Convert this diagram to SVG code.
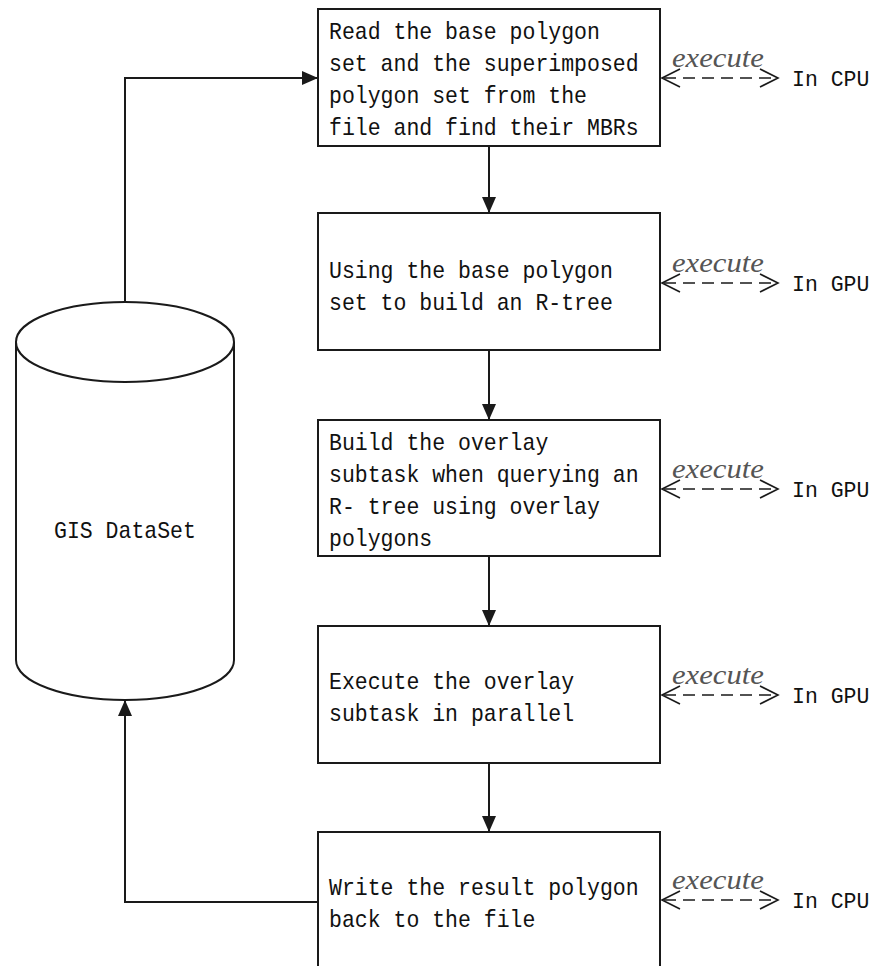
<svg xmlns="http://www.w3.org/2000/svg" width="873" height="966" viewBox="0 0 873 966">
  <style>
    .box { fill: #fff; stroke: #1a1a1a; stroke-width: 2; }
    .cyl { fill: #fff; stroke: #1a1a1a; stroke-width: 2; }
    .edge { fill: none; stroke: #1a1a1a; stroke-width: 2; }
    .exec { fill: none; stroke: #1a1a1a; stroke-width: 1.6; stroke-dasharray: 12 7; }
    .head { fill: none; stroke: #1a1a1a; stroke-width: 1.6; }
    .t { font-family: "Liberation Mono", "DejaVu Sans Mono", monospace; font-size: 24px; fill: #111; }
    .unit { font-family: "Liberation Mono", "DejaVu Sans Mono", monospace; font-size: 21.5px; fill: #111; }
    .lbl { font-family: "Liberation Serif", "Times New Roman", serif; font-style: italic; font-size: 27px; fill: #555; }
  </style>
  <defs>
    <marker id="arrow" viewBox="0 0 16 14" refX="16" refY="7" markerWidth="16" markerHeight="14" markerUnits="userSpaceOnUse" orient="auto">
      <path d="M0,0 L16,7 L0,14 Z" fill="#1a1a1a"/>
    </marker>
  </defs>

  <!-- data store cylinder -->
  <g id="gis-dataset">
    <path class="cyl" d="M16,342 L16,660 A109,40 0 0 0 234,660 L234,342"/>
    <ellipse class="cyl" cx="125" cy="342" rx="109" ry="40"/>
    <text class="t" x="54" y="538" textLength="141.9" lengthAdjust="spacingAndGlyphs">GIS DataSet</text>
  </g>

  <!-- processing steps -->
  <g id="step-read">
    <rect class="box" x="318" y="9" width="342" height="137"/>
    <text class="t" x="329" y="39" textLength="270.9" lengthAdjust="spacingAndGlyphs">Read the base polygon</text>
    <text class="t" x="329" y="71" textLength="309.6" lengthAdjust="spacingAndGlyphs">set and the superimposed</text>
    <text class="t" x="329" y="103" textLength="258" lengthAdjust="spacingAndGlyphs">polygon set from the</text>
    <text class="t" x="329" y="135" textLength="309.6" lengthAdjust="spacingAndGlyphs">file and find their MBRs</text>
  </g>
  <g id="step-build-rtree">
    <rect class="box" x="318" y="213" width="342" height="137"/>
    <text class="t" x="329" y="278" textLength="283.8" lengthAdjust="spacingAndGlyphs">Using the base polygon</text>
    <text class="t" x="329" y="310" textLength="283.8" lengthAdjust="spacingAndGlyphs">set to build an R-tree</text>
  </g>
  <g id="step-subtask">
    <rect class="box" x="318" y="420" width="342" height="136"/>
    <text class="t" x="329" y="450" textLength="219.3" lengthAdjust="spacingAndGlyphs">Build the overlay</text>
    <text class="t" x="329" y="482" textLength="309.6" lengthAdjust="spacingAndGlyphs">subtask when querying an</text>
    <text class="t" x="329" y="514" textLength="270.9" lengthAdjust="spacingAndGlyphs">R- tree using overlay</text>
    <text class="t" x="329" y="546" textLength="103.2" lengthAdjust="spacingAndGlyphs">polygons</text>
  </g>
  <g id="step-execute">
    <rect class="box" x="318" y="626" width="342" height="137"/>
    <text class="t" x="329" y="689" textLength="245.1" lengthAdjust="spacingAndGlyphs">Execute the overlay</text>
    <text class="t" x="329" y="721" textLength="245.1" lengthAdjust="spacingAndGlyphs">subtask in parallel</text>
  </g>
  <g id="step-write">
    <rect class="box" x="318" y="832" width="342" height="140"/>
    <text class="t" x="329" y="895" textLength="309.6" lengthAdjust="spacingAndGlyphs">Write the result polygon</text>
    <text class="t" x="329" y="927" textLength="206.4" lengthAdjust="spacingAndGlyphs">back to the file</text>
  </g>

  <!-- execution targets -->
  <g id="target-read">
    <text class="lbl" x="672" y="67" textLength="92" lengthAdjust="spacingAndGlyphs">execute</text>
    <line class="exec" x1="664" y1="78" x2="776" y2="78"/>
    <path class="head" d="M680,69 L662,78 L680,87 M760,69 L778,78 L760,87"/>
    <text class="unit" x="792" y="86">In CPU</text>
  </g>
  <g id="target-build-rtree">
    <text class="lbl" x="672" y="272" textLength="92" lengthAdjust="spacingAndGlyphs">execute</text>
    <line class="exec" x1="664" y1="283" x2="776" y2="283"/>
    <path class="head" d="M680,274 L662,283 L680,292 M760,274 L778,283 L760,292"/>
    <text class="unit" x="792" y="291">In GPU</text>
  </g>
  <g id="target-subtask">
    <text class="lbl" x="672" y="478" textLength="92" lengthAdjust="spacingAndGlyphs">execute</text>
    <line class="exec" x1="664" y1="489" x2="776" y2="489"/>
    <path class="head" d="M680,480 L662,489 L680,498 M760,480 L778,489 L760,498"/>
    <text class="unit" x="792" y="497">In GPU</text>
  </g>
  <g id="target-execute">
    <text class="lbl" x="672" y="684" textLength="92" lengthAdjust="spacingAndGlyphs">execute</text>
    <line class="exec" x1="664" y1="695" x2="776" y2="695"/>
    <path class="head" d="M680,686 L662,695 L680,704 M760,686 L778,695 L760,704"/>
    <text class="unit" x="792" y="703">In GPU</text>
  </g>
  <g id="target-write">
    <text class="lbl" x="672" y="889" textLength="92" lengthAdjust="spacingAndGlyphs">execute</text>
    <line class="exec" x1="664" y1="900" x2="776" y2="900"/>
    <path class="head" d="M680,891 L662,900 L680,909 M760,891 L778,900 L760,909"/>
    <text class="unit" x="792" y="908">In CPU</text>
  </g>

  <!-- flow connectors -->
  <g id="connectors">
    <path class="edge" d="M125,302 L125,78 L318,78" marker-end="url(#arrow)"/>
    <line class="edge" x1="489" y1="146" x2="489" y2="213" marker-end="url(#arrow)"/>
    <line class="edge" x1="489" y1="350" x2="489" y2="420" marker-end="url(#arrow)"/>
    <line class="edge" x1="489" y1="556" x2="489" y2="626" marker-end="url(#arrow)"/>
    <line class="edge" x1="489" y1="763" x2="489" y2="832" marker-end="url(#arrow)"/>
    <path class="edge" d="M318,902 L125,902 L125,700" marker-end="url(#arrow)"/>
  </g>
</svg>
